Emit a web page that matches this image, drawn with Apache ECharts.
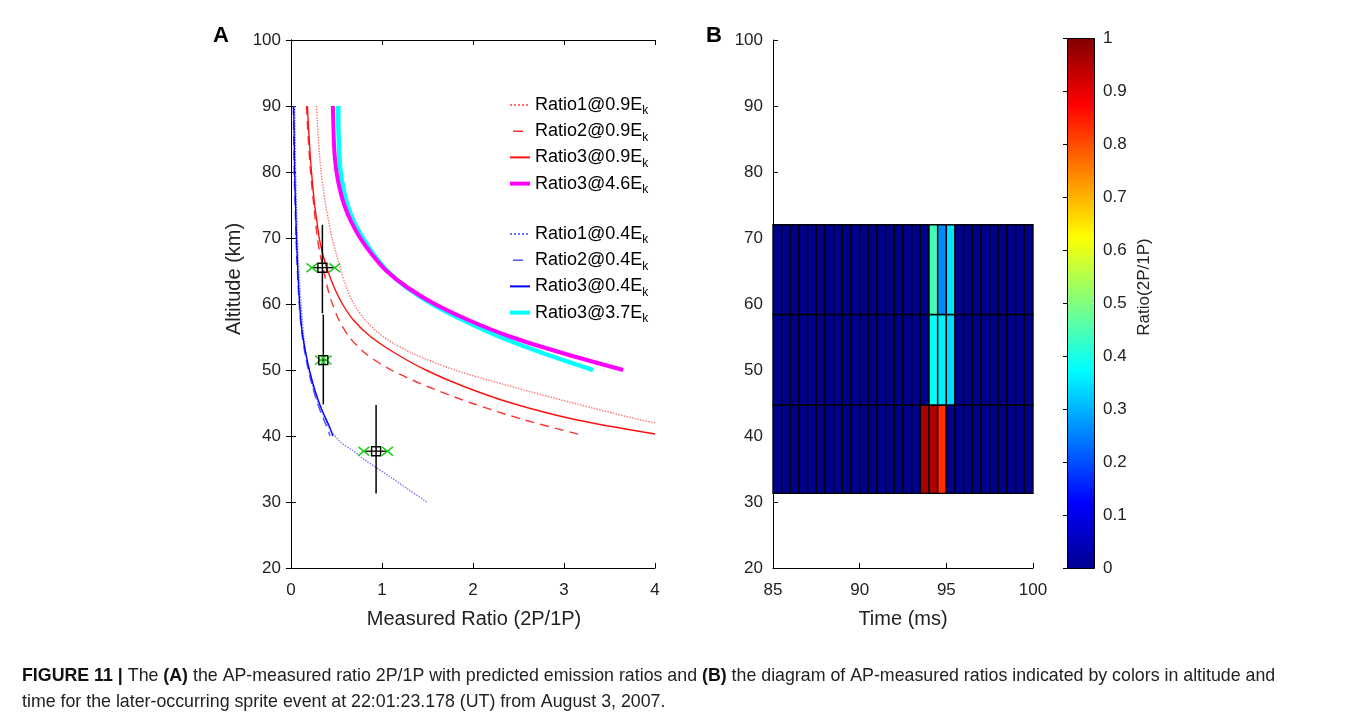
<!DOCTYPE html>
<html><head><meta charset="utf-8">
<script src="https://cdn.jsdelivr.net/npm/echarts@6/dist/echarts.min.js"></script>
<style>html,body{margin:0;padding:0;background:#fff}#c{width:1356px;height:716px}</style>
</head><body><div id="c"></div>
<script>
// ---------- Panel A: predicted ratios, pairs of [ratio 2P/1P, altitude km] ----------
const ratio1At09 = [[0.28,90],[0.30,85],[0.33,80],[0.355,77.5],[0.38,75],[0.415,72.5],[0.45,70],[0.50,67.5],[0.55,65],[0.61,62.5],[0.69,60],[0.82,57.5],[1.02,55],[1.34,52.5],[1.80,50],[2.42,47.5],[3.10,45],[3.82,42.5],[4.0,42]];
const ratio2At09 = [[0.17,90],[0.19,85],[0.215,80],[0.25,75],[0.29,70],[0.32,67.5],[0.36,65],[0.40,62.5],[0.455,60],[0.53,57.5],[0.64,55],[0.82,52.5],[1.10,50],[1.50,47.5],[1.98,45],[2.55,42.5],[3.18,40.2]];
const ratio3At09 = [[0.18,90],[0.20,85],[0.225,80],[0.26,75],[0.285,72.5],[0.31,70],[0.35,67.5],[0.405,65],[0.475,62.5],[0.565,60],[0.69,57.5],[0.88,55],[1.15,52.5],[1.48,50],[1.90,47.5],[2.42,45],[3.12,42.5],[4.0,40.3]];
const ratio3At46 = [[0.46,90],[0.465,87.5],[0.47,85],[0.48,82.5],[0.50,80],[0.535,77.5],[0.585,75],[0.66,72.5],[0.76,70],[0.89,67.5],[1.05,65],[1.28,62.5],[1.58,60],[1.96,57.5],[2.42,55],[3.0,52.5],[3.65,50]];
const ratio1At04 = [[0.04,90],[0.045,85],[0.05,80],[0.06,75],[0.07,70],[0.085,65],[0.11,60],[0.14,55],[0.18,51],[0.25,47],[0.33,44],[0.43,41],[0.55,39],[0.68,37.8],[0.81,36.4],[1.09,33.8],[1.3,31.8],[1.49,30]];
const ratio2At04 = [[0.025,90],[0.03,85],[0.035,80],[0.045,75],[0.055,70],[0.07,65],[0.09,60],[0.115,56],[0.16,52],[0.225,48],[0.29,45],[0.345,43],[0.39,41.5],[0.43,40]];
const ratio3At04 = [[0.03,90],[0.035,85],[0.04,80],[0.05,75],[0.06,70],[0.075,65],[0.095,60],[0.12,56],[0.17,52],[0.24,48],[0.31,45],[0.37,43],[0.42,41.5],[0.46,40]];
const ratio3At37 = [[0.52,90],[0.52,87.5],[0.525,85],[0.53,82.5],[0.545,80],[0.575,77.5],[0.62,75],[0.69,72.5],[0.79,70],[0.91,67.5],[1.06,65],[1.27,62.5],[1.55,60],[1.90,57.5],[2.30,55],[2.78,52.5],[3.32,50]];

// measured points with error bars
const measuredRatio = [0.345, 0.355, 0.935];
const measuredAlt   = [65.5, 51.5, 37.7];
const altLow        = [58.6, 44.8, 31.3];
const altHigh       = [72.0, 58.4, 44.7];
const ratioLow      = [0.23, 0.325, 0.80];
const ratioHigh     = [0.48, 0.385, 1.06];

// ---------- Panel B: AP-measured ratio by time bin and altitude band ----------
const timeEdges = [85,85.5,86,86.5,87,87.5,88,88.5,89,89.5,90,90.5,91,91.5,92,92.5,93,93.5,94,94.5,95,95.5,96,96.5,97,97.5,98,98.5,99,99.5,100];
const altEdges = [31.3, 44.7, 58.4, 72.0];
const ratioBand1 = [0,0,0,0,0,0,0,0,0,0,0,0,0,0,0,0,0,0.96,0.95,0.83,0,0,0,0,0,0,0,0,0,0]; // 31.3-44.7 km
const ratioBand2 = [0,0,0,0,0,0,0,0,0,0,0,0,0,0,0,0,0,0,0.38,0.36,0.34,0,0,0,0,0,0,0,0,0]; // 44.7-58.4 km
const ratioBand3 = [0,0,0,0,0,0,0,0,0,0,0,0,0,0,0,0,0,0,0.44,0.26,0.35,0,0,0,0,0,0,0,0,0]; // 58.4-72.0 km
const jetColors = ['#00008F','#0000FF','#0080FF','#00FFFF','#80FF80','#FFFF00','#FF8000','#FF0000','#800000'];

const FONT = 'Liberation Sans, Arial, Helvetica, sans-serif';
const bands = [ratioBand1, ratioBand2, ratioBand3];
const cells = [];
bands.forEach((band, r) => band.forEach((v, c) => cells.push([timeEdges[c], timeEdges[c+1], altEdges[r], altEdges[r+1], v])));
const errData = measuredRatio.map((x, i) => [x, measuredAlt[i], altLow[i], altHigh[i], ratioLow[i], ratioHigh[i]]);

const axisLbl = {fontSize: 17, color: '#222', fontFamily: FONT};
const axLine = {show: true, lineStyle: {color: '#000', width: 1}};
const tickIn = {show: true, inside: true, length: 5, lineStyle: {color: '#000'}};

function lineSeries(name, data, color, width, type) {
  return {name, type: 'line', data, xAxisIndex: 0, yAxisIndex: 0, symbol: 'none', smooth: 0.3, clip: true,
    lineStyle: {color, width, type}, itemStyle: {color}, emphasis: {disabled: true}, z: 3};
}

const chart = echarts.init(document.getElementById('c'), null, {renderer: 'canvas'});
const legendText = {fontSize: 18, color: '#000', fontFamily: FONT, lineHeight: 24,
  rich: {sub: {fontSize: 12, lineHeight: 10, verticalAlign: 'bottom', fontFamily: FONT, color: '#000'}}};
const legendFmt = n => n.replace(/k$/, '{sub|k}');
const legendCommon = {orient: 'vertical', left: 508, itemWidth: 20, itemHeight: 10, itemGap: 2.2, padding: 0,
  textStyle: legendText, formatter: legendFmt, selectedMode: false, itemStyle: {opacity: 0, borderWidth: 0}};
const dashIcon = {type: [0, 3, 10, 30], width: 1.4};
const thickIcon = {width: 4};

const colorStops = jetColors.map((c, i) => ({offset: i / (jetColors.length - 1), color: c}));

chart.setOption({
  animation: false,
  backgroundColor: '#fff',
  grid: [
    {left: 291, top: 40, width: 364, height: 528},
    {left: 773, top: 40, width: 260, height: 528},
    {left: 1067, top: 38, width: 27, height: 530}
  ],
  xAxis: [
    {type: 'value', gridIndex: 0, min: 0, max: 4, interval: 1, axisLine: axLine, axisTick: tickIn, splitLine: {show: false}, axisLabel: Object.assign({margin: 14}, axisLbl)},
    {type: 'value', gridIndex: 0, position: 'top', min: 0, max: 4, interval: 1, axisLine: axLine, axisTick: tickIn, splitLine: {show: false}, axisLabel: {show: false}},
    {type: 'value', gridIndex: 1, min: 85, max: 100, interval: 5, axisLine: axLine, axisTick: tickIn, splitLine: {show: false}, axisLabel: Object.assign({margin: 14}, axisLbl)},
    {type: 'value', gridIndex: 2, min: 0, max: 1, show: false}
  ],
  yAxis: [
    {type: 'value', gridIndex: 0, min: 20, max: 100, interval: 10, axisLine: axLine, axisTick: tickIn, splitLine: {show: false}, axisLabel: Object.assign({margin: 10}, axisLbl)},
    {type: 'value', gridIndex: 0, position: 'right', min: 20, max: 100, interval: 10, axisLine: axLine, axisTick: tickIn, splitLine: {show: false}, axisLabel: {show: false}},
    {type: 'value', gridIndex: 1, min: 20, max: 100, interval: 10, axisLine: axLine, axisTick: tickIn, splitLine: {show: false}, axisLabel: Object.assign({margin: 10}, axisLbl)},
    {type: 'value', gridIndex: 2, position: 'right', min: 0, max: 1, interval: 0.1, z: 10, axisLine: {show: false}, axisTick: {show: true, inside: true, length: 4, lineStyle: {color: '#000'}}, splitLine: {show: false}, axisLabel: Object.assign({margin: 9}, axisLbl)}
  ],
  legend: [
    Object.assign({data: [{name: 'Ratio1@0.9Ek'}, {name: 'Ratio2@0.9Ek', lineStyle: dashIcon}, {name: 'Ratio3@0.9Ek'}, {name: 'Ratio3@4.6Ek', lineStyle: thickIcon}], top: 93}, legendCommon),
    Object.assign({data: [{name: 'Ratio1@0.4Ek'}, {name: 'Ratio2@0.4Ek', lineStyle: dashIcon}, {name: 'Ratio3@0.4Ek'}, {name: 'Ratio3@3.7Ek', lineStyle: thickIcon}], top: 222}, legendCommon)
  ],
  visualMap: {type: 'continuous', show: false, min: 0, max: 1, seriesIndex: 8, dimension: 4, inRange: {color: jetColors}},
  series: [
    lineSeries('Ratio3@3.7Ek', ratio3At37, '#00FFFF', 4.5, 'solid'),
    lineSeries('Ratio3@4.6Ek', ratio3At46, '#FF00FF', 4, 'solid'),
    lineSeries('Ratio1@0.9Ek', ratio1At09, '#FF7070', 1.4, 'dotted'),
    lineSeries('Ratio2@0.9Ek', ratio2At09, '#FF3030', 1.4, [9, 6]),
    lineSeries('Ratio3@0.9Ek', ratio3At09, '#FF1010', 1.4, 'solid'),
    lineSeries('Ratio1@0.4Ek', ratio1At04, '#7070FF', 1.4, 'dotted'),
    lineSeries('Ratio2@0.4Ek', ratio2At04, '#5050FF', 1.4, [9, 6]),
    lineSeries('Ratio3@0.4Ek', ratio3At04, '#0000FF', 1.4, 'solid'),
    {
      type: 'custom', xAxisIndex: 2, yAxisIndex: 2, data: cells, encode: {x: [0, 1], y: [2, 3]}, z: 2,
      renderItem(params, api) {
        const p0 = api.coord([api.value(0), api.value(3)]);
        const p1 = api.coord([api.value(1), api.value(2)]);
        return {type: 'rect', shape: {x: p0[0], y: p0[1], width: p1[0] - p0[0], height: p1[1] - p0[1]},
          style: {fill: api.visual('color'), stroke: '#000', lineWidth: 1.4}};
      }
    },
    {
      type: 'custom', xAxisIndex: 0, yAxisIndex: 0, data: errData, encode: {x: 0, y: 1}, z: 5, clip: false,
      renderItem(params, api) {
        const c = api.coord([api.value(0), api.value(1)]);
        const lo = api.coord([api.value(0), api.value(2)]);
        const hi = api.coord([api.value(0), api.value(3)]);
        const l = api.coord([api.value(4), api.value(1)]);
        const r = api.coord([api.value(5), api.value(1)]);
        const s = 4.5, g = 5.5;
        const cross = p => [
          {type: 'line', shape: {x1: p[0]-g, y1: p[1]-g*0.8, x2: p[0]+g, y2: p[1]+g*0.8}, style: {stroke: '#22CC22', lineWidth: 1.6}},
          {type: 'line', shape: {x1: p[0]-g, y1: p[1]+g*0.8, x2: p[0]+g, y2: p[1]-g*0.8}, style: {stroke: '#22CC22', lineWidth: 1.6}}
        ];
        return {type: 'group', children: [
          {type: 'line', shape: {x1: lo[0], y1: lo[1], x2: hi[0], y2: hi[1]}, style: {stroke: '#000', lineWidth: 1.5}},
          {type: 'line', shape: {x1: l[0], y1: l[1], x2: r[0], y2: r[1]}, style: {stroke: '#000', lineWidth: 1.3}},
          ...cross(l), ...cross(r),
          {type: 'rect', shape: {x: c[0]-s, y: c[1]-s, width: 2*s, height: 2*s}, style: {fill: 'none', stroke: '#000', lineWidth: 1.4}}
        ]};
      }
    }
  ],
  graphic: [
    {type: 'rect', left: 1067, top: 38, z: 1, silent: true, shape: {width: 27, height: 530},
      style: {fill: {type: 'linear', x: 0, y: 1, x2: 0, y2: 0, colorStops}, stroke: '#000', lineWidth: 1}},
    {type: 'text', x: 221, y: 36, style: {text: 'A', font: 'bold 22px ' + FONT, fill: '#000', align: 'center', verticalAlign: 'middle'}},
    {type: 'text', x: 714, y: 36, style: {text: 'B', font: 'bold 22px ' + FONT, fill: '#000', align: 'center', verticalAlign: 'middle'}},
    {type: 'text', x: 234, y: 279, rotation: Math.PI / 2, style: {text: 'Altitude (km)', font: '20px ' + FONT, fill: '#222', align: 'center', verticalAlign: 'middle'}},
    {type: 'text', x: 474, y: 619, style: {text: 'Measured Ratio (2P/1P)', font: '20px ' + FONT, fill: '#222', align: 'center', verticalAlign: 'middle'}},
    {type: 'text', x: 903, y: 619, style: {text: 'Time (ms)', font: '20px ' + FONT, fill: '#222', align: 'center', verticalAlign: 'middle'}},
    {type: 'text', x: 1144, y: 287, rotation: Math.PI / 2, style: {text: 'Ratio(2P/1P)', font: '17px ' + FONT, fill: '#222', align: 'center', verticalAlign: 'middle'}},
    {type: 'text', x: 22, y: 676, style: {text: '{b|FIGURE 11 |} The {b|(A)} the AP-measured ratio 2P/1P with predicted emission ratios and {b|(B)} the diagram of AP-measured ratios indicated by colors in altitude and',
      font: '17.8px ' + FONT, fill: '#222', verticalAlign: 'middle', rich: {b: {fontWeight: 'bold', fontSize: 17.8, fontFamily: FONT, fill: '#111'}}}},
    {type: 'text', x: 22, y: 702, style: {text: 'time for the later-occurring sprite event at 22:01:23.178 (UT) from August 3, 2007.',
      font: '17.8px ' + FONT, fill: '#222', verticalAlign: 'middle'}}
  ]
});
</script></body></html>
